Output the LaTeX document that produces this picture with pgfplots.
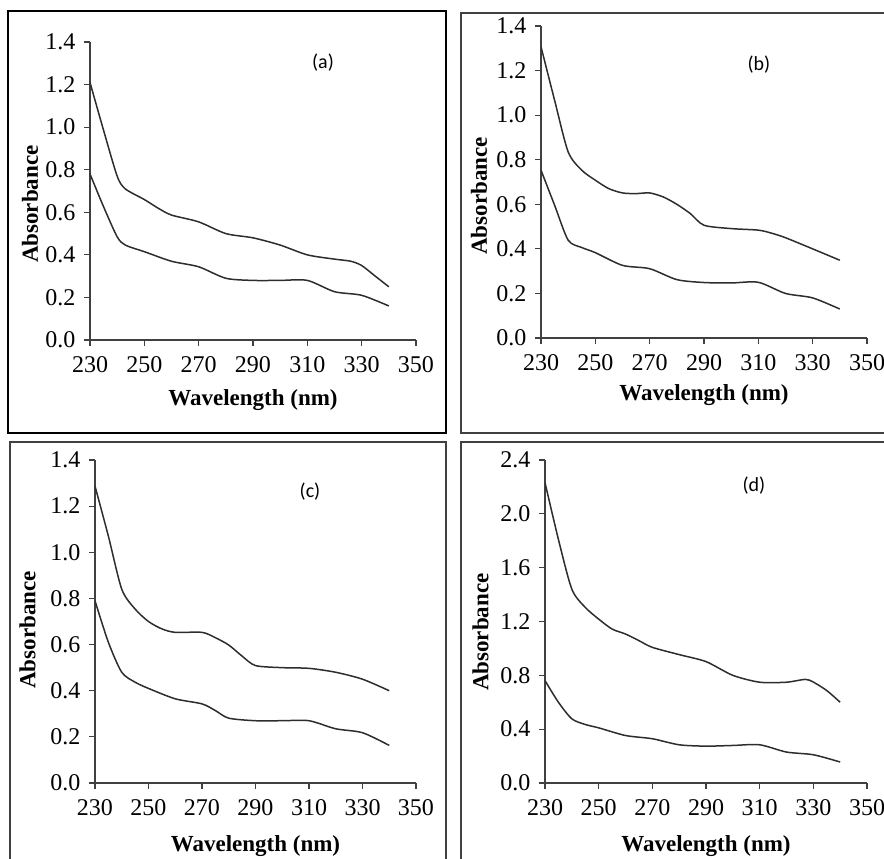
\documentclass[border=0pt]{standalone}
\usepackage{fontspec}
\setmainfont{Liberation Serif}
\newfontfamily\lblfont{Carlito}
\usepackage{pgfplots}
\pgfplotsset{compat=1.18}

\definecolor{frameGray}{RGB}{64,64,64}
\definecolor{curve}{RGB}{45,45,45}

\pgfplotsset{
  spec/.style={
    scale only axis,
    anchor=south west,
    axis lines=left,
    axis line style={-,draw=frameGray,line width=0.7pt},
    tick style={draw=frameGray,line width=0.6pt},
    tick align=outside,
    major tick length=2.8pt,
    xmin=230, xmax=350, ymin=0,
    xtick={230,250,...,350},
    /pgf/number format/assume math mode=true,
    tick label style={font=\fontsize{12}{14}\selectfont},
    yticklabel style={xshift=-1pt,/pgf/number format/.cd,fixed,fixed zerofill,precision=1},
    xticklabel style={yshift=-2pt,/pgf/number format/.cd,set thousands separator={}},
    label style={font=\fontsize{11.5}{13}\selectfont\bfseries},
    xlabel={Wavelength (nm)},
    ylabel={Absorbance},
  },
  sp/.style={draw=curve,line width=0.75pt,smooth,tension=0.45,mark=none},
}

\begin{document}
\begin{tikzpicture}[x=0.5pt,y=-0.5pt]
\path[use as bounding box] (0,0) rectangle (884,858);

% frames
\draw[black,line width=1.3pt] (8,11) rectangle (446,433);
\draw[frameGray,line width=0.9pt] (890,13) -- (461,13) -- (461,433) -- (890,433);
\draw[frameGray,line width=0.9pt] (446,870) -- (446,442) -- (10,442) -- (10,870);
\draw[frameGray,line width=0.9pt] (890,442) -- (461,442) -- (461,870);

% (a)
\begin{axis}[spec, at={(45pt,-170pt)}, width=163pt, height=149pt,
  ymax=1.4, ytick={0,0.2,...,1.4},
  xlabel style={at={(axis description cs:0.5,-0.201)},anchor=center},
  ylabel style={at={(axis description cs:-0.184,0.456)},anchor=center}]
\addplot[sp] coordinates {(230,1.21) (235,0.985) (240,0.77) (243,0.71) (250,0.66) (255,0.62) (260,0.587) (270,0.555) (280,0.50) (290,0.48) (300,0.446) (310,0.40) (320,0.38) (326,0.37) (330,0.35) (335,0.30) (340,0.25)};
\addplot[sp] coordinates {(230,0.78) (235,0.626) (240,0.485) (243,0.446) (250,0.415) (260,0.37) (270,0.344) (280,0.29) (290,0.28) (300,0.28) (310,0.28) (320,0.227) (330,0.21) (340,0.16)};
\end{axis}

% (b)
\begin{axis}[spec, at={(270.5pt,-169pt)}, width=163pt, height=156pt,
  ymax=1.4, ytick={0,0.2,...,1.4},
  xlabel style={at={(axis description cs:0.5,-0.183)},anchor=center},
  ylabel style={at={(axis description cs:-0.19,0.455)},anchor=center}]
\addplot[sp] coordinates {(230,1.307) (235,1.067) (240,0.835) (245,0.753) (250,0.708) (255,0.67) (260,0.651) (265,0.648) (270,0.651) (275,0.633) (280,0.60) (285,0.558) (290,0.506) (300,0.491) (310,0.484) (315,0.47) (320,0.45) (330,0.40) (340,0.349)};
\addplot[sp] coordinates {(230,0.753) (235,0.596) (240,0.439) (245,0.406) (250,0.383) (260,0.326) (270,0.311) (280,0.262) (290,0.249) (300,0.247) (310,0.25) (320,0.20) (330,0.18) (340,0.13)};
\end{axis}

% (c)
\begin{axis}[spec, at={(47.5pt,-391.5pt)}, width=160.5pt, height=161.5pt,
  ymax=1.4, ytick={0,0.2,...,1.4},
  xlabel style={at={(axis description cs:0.5,-0.195)},anchor=center},
  ylabel style={at={(axis description cs:-0.21,0.474)},anchor=center}]
\addplot[sp] coordinates {(230,1.287) (235,1.07) (240,0.84) (245,0.754) (250,0.70) (255,0.668) (260,0.653) (270,0.653) (275,0.63) (280,0.598) (285,0.55) (290,0.509) (300,0.50) (310,0.497) (320,0.48) (330,0.45) (340,0.40)};
\addplot[sp] coordinates {(230,0.79) (235,0.61) (240,0.48) (245,0.437) (250,0.41) (260,0.365) (270,0.343) (275,0.314) (280,0.281) (290,0.27) (300,0.27) (310,0.27) (320,0.235) (330,0.218) (340,0.163)};
\end{axis}

% (d)
\begin{axis}[spec, at={(272.5pt,-391.5pt)}, width=161pt, height=161.5pt,
  ymax=2.4, ytick={0,0.4,...,2.4},
  xlabel style={at={(axis description cs:0.5,-0.195)},anchor=center},
  ylabel style={at={(axis description cs:-0.2,0.467)},anchor=center}]
\addplot[sp] coordinates {(230,2.232) (235,1.81) (240,1.44) (245,1.305) (250,1.218) (255,1.144) (260,1.107) (265,1.058) (270,1.008) (280,0.954) (290,0.902) (300,0.80) (310,0.749) (320,0.749) (327,0.77) (330,0.75) (335,0.687) (340,0.60)};
\addplot[sp] coordinates {(230,0.761) (235,0.60) (240,0.477) (245,0.435) (250,0.41) (260,0.353) (270,0.329) (280,0.284) (290,0.274) (300,0.279) (310,0.284) (320,0.23) (330,0.21) (340,0.156)};
\end{axis}

% panel letters
\node[font=\lblfont\fontsize{10}{12}\selectfont] at (323,63) {(a)};
\node[font=\lblfont\fontsize{10}{12}\selectfont] at (759,65) {(b)};
\node[font=\lblfont\fontsize{10}{12}\selectfont] at (310,492) {(c)};
\node[font=\lblfont\fontsize{10}{12}\selectfont] at (754,486) {(d)};
\end{tikzpicture}
\end{document}
